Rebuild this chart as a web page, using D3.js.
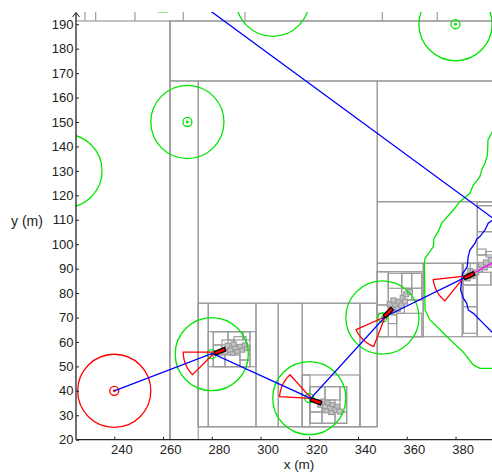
<!DOCTYPE html>
<html><head><meta charset="utf-8">
<script src="https://cdn.jsdelivr.net/npm/d3@7"></script>
<style>html,body{margin:0;padding:0;background:#fff}svg{display:block}</style>
</head><body><svg id="c" width="492" height="473"></svg>
<script>
// ---- data (metres) ----
const xTicks = [240,260,280,300,320,340,360,380];
const yTicks = [20,30,40,50,60,70,80,90,100,110,120,130,140,150,160,170,180,190];

const greenLandmarks = [[220,130],[270,150],[260,210],[305,200],[380,190],[280,55],[320,37],[350,70]];
const redLandmarks = [[240,40]];
const landmarkRadius = 15;
const innerRadius = 1.85;

const pathPts = [[240,40],[280.2,55.3],[320.6,36.9],[351.1,70.3],[384.8,86.8]];
const wedgeApex = [[281.3,55.8],[320.8,36.9],[351.1,70.3],[383.8,86.9]];
const wedgeFrom = [180,132,204,186];
const wedgeTo = [225,178,249,232];
const wedgeRadius = 13;

const robotX = [283.4,322.8,352.4,385.6];
const robotY = [56.2,35.7,72.0,87.1];
const robotHeading = [22,-20,45,25];
const robotLength = 5;

const magentaLine = [[387.3,88.1],[402,96]];

const greenContour = [[395.8,147.6],[394.8,145.5],[393.3,142.6],[393.1,136.5],[392.1,133.2],[390.7,130.4],[390.0,127.6],[387.3,124.2],[385.9,120.8],[381.8,117.4],[379.1,114.0],[374.3,108.6],[372.9,105.1],[371.2,102.4],[370.9,99.0],[367.5,94.2],[367.2,92.2],[367.5,73.1],[369.5,69.0],[376.4,62.2],[383.1,55.9],[387.3,50.6],[390.0,49.2],[396,49.2]];
const blueContour = [[262,208.2],[395.8,110.3],[393.4,108.6],[392.1,105.8],[390.0,103.1],[388.7,102.1],[388.0,100.4],[385.9,97.6],[385.2,94.9],[384.8,90.8],[383.9,89.4],[382.9,88.1],[382.5,85.4],[382.1,81.3],[383.2,77.9],[384.6,75.8],[385.2,73.1],[387.3,71.7],[389.3,69.7],[391.4,67.6],[394.1,64.9],[396,62.9]];

const topSegX = [227.98,232.37,248.49,268.31,293.62,349.95,372.51];

const cells = [
 [215,20,262.85,191.33],[262.85,20,400,191.33],[262.85,166.78,400,191.33],[262.85,20,274.46,166.78],
 [274.46,25.33,347.9,166.78],[274.46,25.33,347.9,75.82],[274.46,25.33,278.56,75.82],[278.56,25.33,298.13,75.82],
 [298.13,25.33,307.28,75.82],[307.28,25.33,317.13,75.82],[317.13,25.33,340.8,75.82],[340.8,25.33,347.9,75.82],
 [347.9,117.39,400,166.78],[347.9,92.18,400,117.39],[347.9,62.15,366.77,92.18],[366.77,62.15,382.77,92.18],
 [382.77,62.15,388.92,92.18],[388.92,92.18,400,117.39],[388.92,62.15,400,92.18],[388.92,115.75,400,117.39],
 [388.92,105.11,400,115.75],[388.92,95.58,400,105.11],
 // pose 1 cluster
 [278.56,49.88,298.13,64.20],[280.62,49.88,295.67,64.20],[280.62,58.76,286.65,64.20],[286.65,60.80,292.80,64.20],
 [292.80,60.80,295.67,64.20],[280.62,54.66,284.19,58.76],[284.19,56.71,289.11,60.80],[289.11,58.76,294.03,62.15],
 [280.62,49.88,285.42,54.66],[285.42,49.88,291.57,54.66],[291.57,52.62,295.67,58.76],[291.57,49.88,295.67,52.62],
 [284.6,55.0,286.6,57.0],[286.6,55.6,288.6,57.6],[288.6,56.3,290.6,58.3],[290.6,57.0,292.6,59.0],[292.6,57.6,294.6,59.6],
 [287.5,54.5,289.5,56.0],[289.5,55.2,291.5,56.8],[291.5,55.8,293.5,57.4],[293.5,56.5,295.5,58.2],[285.5,57.5,287.5,59.5],[288.0,58.2,290.0,60.0],
 // pose 2 cluster
 [317.13,25.33,340.8,46.48],[317.13,25.33,320.28,46.48],[320.28,26.72,335.34,41.69],[320.28,36.25,326.44,41.69],
 [326.44,36.25,332.59,41.69],[332.59,31.34,335.34,41.69],[320.28,31.34,325.21,36.25],[325.21,31.34,330.54,36.25],
 [330.54,26.72,335.34,31.34],[320.28,26.72,325.21,31.34],[325.21,26.72,330.54,31.34],
 [323.5,33.3,325.5,35.3],[325.5,32.6,327.5,34.6],[327.5,31.9,329.5,33.9],[329.5,31.2,331.5,33.2],[331.5,30.5,333.5,32.5],
 [324.5,35.0,326.5,36.6],[326.5,34.3,328.5,35.9],[328.5,33.6,330.5,35.2],[330.5,32.9,332.5,34.5],[326,31.0,328,32.6],[328,30.3,330,31.9],
 // pose 3 cluster
 [347.9,62.15,366.77,88.75],[347.9,62.15,352.41,88.75],[357.91,77.17,366.11,88.09],[357.91,81.95,362.01,88.09],
 [362.01,81.95,366.11,88.09],[357.91,77.17,362.01,81.95],[362.01,77.17,366.11,81.95],[352.41,81.95,357.91,88.09],
 [347.9,75.12,352.41,88.75],[347.9,71.73,352.41,75.12],[355.86,62.15,366.11,71.73],[352.41,67.5,355.86,71.73],[355.86,71.73,359,75.12],
 [352.8,72.5,354.8,74.5],[354.3,74.0,356.3,76.0],[355.8,75.5,357.8,77.5],[357.3,77.0,359.3,79.0],[358.8,78.5,360.8,80.5],
 [353.8,71.0,355.8,73.0],[355.3,72.5,357.3,74.5],[356.8,74.0,358.8,76.0],[358.3,75.5,360.3,77.5],[352.0,74.5,354.0,76.5],
 [353.5,76.0,355.5,78.0],[360.3,79.5,362.3,81.5],
 // pose 4 cluster
 [383.18,83.31,388.92,92.18],[383.18,74.43,388.92,83.31],[383.18,63.54,388.92,74.43],
 [388.92,88.5,391,90.5],[391,89.5,393,91.5],[393,90.5,395,92.5],[395,91.5,397,93.5],[389.5,90.5,391.5,92.5],
 [391.5,91.5,393.5,93.5],[393.5,92.5,395.5,94.5],[386,86,388,88],[387.5,87.5,389.5,89.5],[384,85,386,87],[385,88,387,90],
 [383.18,88.09,386,92.18],[388.92,83.31,394.5,88.5],[394.5,83.31,400,88.5],[388.92,95.58,392.5,98],[392.5,94.76,396,97]
];

// ---- drawing ----
const svg = d3.select('#c');
const x = d3.scaleLinear().domain([224.3,395]).range([76,492.1]);
const y = d3.scaleLinear().domain([20,195]).range([439.7,12]);
const rpx = x(landmarkRadius) - x(0);

svg.append('defs').append('clipPath').attr('id','clip')
  .append('rect').attr('x',x(224.3)).attr('y',y(195)).attr('width',x(395)-x(224.3)+2).attr('height',y(20)-y(195));
const g = svg.append('g').attr('clip-path','url(#clip)');

const gray = '#9c9c9c';
g.selectAll('rect.cell').data(cells).join('rect').attr('class','cell')
  .attr('x',d=>x(d[0])).attr('y',d=>y(d[3]))
  .attr('width',d=>x(d[2])-x(d[0])).attr('height',d=>y(d[1])-y(d[3]))
  .attr('fill',d=>(d[2]-d[0])<=2.6 ? '#c4c4c4' : 'none')
  .attr('stroke',gray).attr('stroke-width',1.2);
g.selectAll('line.top').data(topSegX).join('line').attr('class','top')
  .attr('x1',d=>x(d)).attr('x2',d=>x(d)).attr('y1',y(191.33)).attr('y2',y(198))
  .attr('stroke',gray).attr('stroke-width',1.2);

const line = d3.line().x(d=>x(d[0])).y(d=>y(d[1]));
g.append('path').attr('d',line(greenContour)).attr('fill','none').attr('stroke','#00e600').attr('stroke-width',1.3);
g.append('path').attr('d',line(blueContour)).attr('fill','none').attr('stroke','#0000ff').attr('stroke-width',1.3);

function landmark(sel, data, col){
  sel.selectAll(null).data(data).join('circle').attr('cx',d=>x(d[0])).attr('cy',d=>y(d[1])).attr('r',rpx)
    .attr('fill','none').attr('stroke',col).attr('stroke-width',1.3);
  sel.selectAll(null).data(data).join('circle').attr('cx',d=>x(d[0])).attr('cy',d=>y(d[1])).attr('r',x(innerRadius)-x(0))
    .attr('fill','none').attr('stroke',col).attr('stroke-width',1.3);
  sel.selectAll(null).data(data).join('circle').attr('cx',d=>x(d[0])).attr('cy',d=>y(d[1])).attr('r',1.4)
    .attr('fill',col);
}
landmark(g.append('g'), greenLandmarks, '#00e600');
landmark(g.append('g'), redLandmarks, '#ff0000');

// wedges
wedgeApex.forEach((a,i)=>{
  const pts=[a];
  for(let t=wedgeFrom[i]; t<=wedgeTo[i]+0.01; t+=3){
    const r=t*Math.PI/180; pts.push([a[0]+wedgeRadius*Math.cos(r), a[1]+wedgeRadius*Math.sin(r)]);
  }
  pts.push(a);
  g.append('path').attr('d',line(pts)).attr('fill','none').attr('stroke','#ff0000').attr('stroke-width',1.3);
});

g.append('path').attr('d',line(pathPts)).attr('fill','none').attr('stroke','#0000ff').attr('stroke-width',1.3);
g.append('path').attr('d',line(magentaLine)).attr('fill','none').attr('stroke','#ff00ff').attr('stroke-width',1.3);

robotX.forEach((cx,i)=>{
  const r=robotHeading[i]*Math.PI/180, h=robotLength/2;
  const p=[[cx-h*Math.cos(r),robotY[i]-h*Math.sin(r)],[cx+h*Math.cos(r),robotY[i]+h*Math.sin(r)]];
  g.append('path').attr('d',line(p)).attr('stroke','#000').attr('stroke-width',5);
  const q=[[cx-0.8*h*Math.cos(r),robotY[i]-0.8*h*Math.sin(r)],[cx+0.8*h*Math.cos(r),robotY[i]+0.8*h*Math.sin(r)]];
  g.append('path').attr('d',line(q)).attr('stroke','#ff0000').attr('stroke-width',2.4);
});

// axes
const axCol='#222';
const xa = svg.append('g').attr('transform',`translate(0,${y(20)})`)
  .call(d3.axisBottom(x).tickValues(xTicks).tickSizeInner(-3).tickSizeOuter(0).tickFormat(d3.format('d')));
xa.select('.domain').remove();
xa.selectAll('line').attr('stroke',axCol);
xa.selectAll('text').attr('x',7).attr('y',5.2).attr('fill',axCol).style('font','13px "Liberation Sans", Arial, sans-serif');
const ya = svg.append('g').attr('transform',`translate(${x(224.3)},0)`)
  .call(d3.axisLeft(y).tickValues(yTicks).tickSizeInner(-3).tickSizeOuter(0).tickFormat(d3.format('d')));
ya.select('.domain').remove();
ya.selectAll('line').attr('stroke',axCol);
ya.selectAll('text').attr('x',-2.5).attr('fill',axCol).style('font','13px "Liberation Sans", Arial, sans-serif');

svg.append('line').attr('x1',x(224.3)).attr('x2',492).attr('y1',y(20)).attr('y2',y(20)).attr('stroke',axCol).attr('stroke-width',1.3);
svg.append('line').attr('x1',x(224.3)).attr('x2',x(224.3)).attr('y1',y(20)).attr('y2',12.5).attr('stroke',axCol).attr('stroke-width',1.3);
svg.append('path').attr('d',`M${x(224.3)-3.5},17 L${x(224.3)},12.5 L${x(224.3)+3.5},17`).attr('fill','none').attr('stroke',axCol).attr('stroke-width',1);

svg.append('text').attr('x',299).attr('y',469).attr('text-anchor','middle').attr('fill',axCol)
  .style('font','13.5px "Liberation Sans", Arial, sans-serif').text('x (m)');
svg.append('text').attr('x',27).attr('y',226).attr('text-anchor','middle').attr('fill',axCol)
  .style('font','14px "Liberation Sans", Arial, sans-serif').text('y (m)');
</script></body></html>
